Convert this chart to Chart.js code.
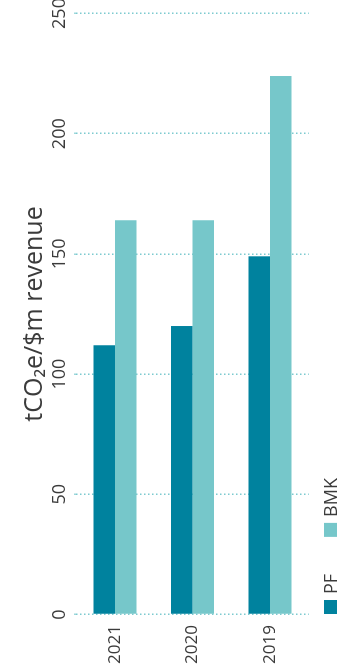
<!DOCTYPE html>
<html>
<head>
<meta charset="utf-8">
<script src="https://cdn.jsdelivr.net/npm/chart.js@4/dist/chart.umd.min.js"></script>
<style>
  html, body { margin: 0; padding: 0; background: #fff; overflow: hidden; }
  body { width: 337px; height: 669px; position: relative; }
  /* the chart is laid out landscape and turned a quarter turn */
  #wrap {
    position: absolute; left: 0; top: 0;
    width: 669px; height: 337px;
    transform-origin: 0 0;
    transform: translate(0, 669px) rotate(-90deg);
  }
  canvas { display: block; }
</style>
</head>
<body>
<div id="wrap"><canvas id="c" width="669" height="337"></canvas></div>
<script>
const years = ['2021', '2020', '2019'];
const pfValues = [112, 120, 149];
const bmkValues = [164, 164, 224];
const seriesNames = ['PF', 'BMK'];
const valueTicks = [0, 50, 100, 150, 200, 250];
const axisTitle = 'tCO\u2082e/$m revenue';

const FONT = "'Open Sans', 'DejaVu Sans', sans-serif";
const TEXT = '#3b3b3b';
const PF_COLOR = '#00829e';
const BMK_COLOR = '#76c7ca';
const GRID = '#7ccacf';

// legend drawn under the plot, starting at the zero line
const bottomLegend = {
  id: 'bottomLegend',
  afterDraw(chart) {
    const ctx = chart.ctx;
    const h = chart.height;
    let x = chart.chartArea.left + 0.5;
    ctx.save();
    ctx.font = '18px ' + FONT;
    ctx.textBaseline = 'alphabetic';
    ctx.textAlign = 'left';
    chart.data.datasets.forEach(ds => {
      ctx.fillStyle = ds.backgroundColor;
      ctx.fillRect(x, h - 13, 14, 14);
      ctx.fillStyle = TEXT;
      ctx.fillText(ds.label, x + 20, h - 0.5);
      x += 20 + ctx.measureText(ds.label).width + 37;
    });
    ctx.restore();
  }
};

new Chart(document.getElementById('c'), {
  type: 'bar',
  data: {
    labels: years,
    datasets: [
      { label: seriesNames[0], data: pfValues, backgroundColor: PF_COLOR },
      { label: seriesNames[1], data: bmkValues, backgroundColor: BMK_COLOR }
    ]
  },
  options: {
    indexAxis: 'y',
    responsive: false,
    animation: false,
    layout: { padding: { left: 5, right: 13.5, top: 0, bottom: 28.25 } },
    datasets: { bar: { categoryPercentage: 0.555, barPercentage: 1.0, borderWidth: 0 } },
    plugins: {
      legend: { display: false },
      tooltip: { enabled: false }
    },
    scales: {
      x: {
        position: 'top',
        min: 0,
        max: 250,
        afterBuildTicks(s) { s.ticks = valueTicks.map(v => ({ value: v })); },
        afterFit(s) { s.height = 76.25; s.paddingLeft = 0; s.paddingRight = 0; },
        ticks: { color: TEXT, font: { family: FONT, size: 18 }, padding: 4 },
        grid: {
          color: GRID, lineWidth: 1.5, drawTicks: true, tickLength: 2,
          tickColor: GRID, tickWidth: 1.5, tickBorderDash: [1.5, 2.5]
        },
        border: { display: false, dash: [1.5, 2.5] },
        title: {
          display: true, text: axisTitle, color: TEXT,
          font: { family: FONT, size: 25 }, padding: { top: 20, bottom: 0 }
        }
      },
      y: {
        afterFit(s) { s.width = 49.5; s.paddingTop = 0; s.paddingBottom = 0; },
        ticks: { color: TEXT, font: { family: FONT, size: 17 }, crossAlign: 'far' },
        grid: { display: false },
        border: { display: false }
      }
    }
  },
  plugins: [bottomLegend]
});
</script>
</body>
</html>
